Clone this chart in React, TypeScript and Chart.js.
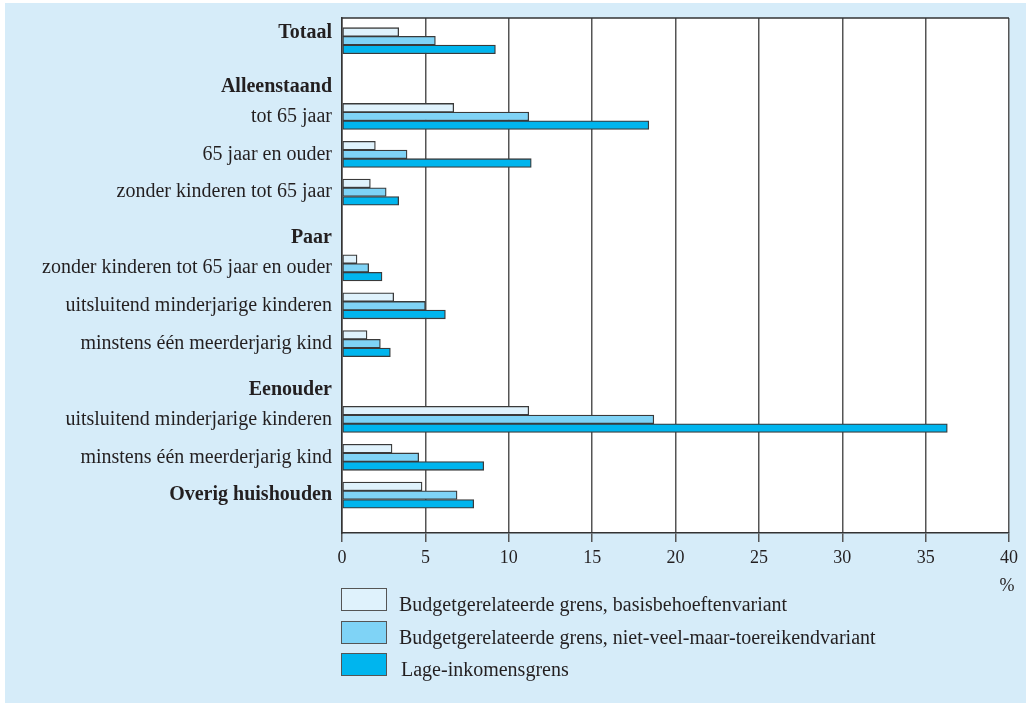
import React, { useEffect, useRef } from "react";
import { Chart, registerables } from "chart.js";

Chart.register(...registerables);

// ---- data ----
const CATEGORIES = [
  "Totaal",
  "Alleenstaand",
  "tot 65 jaar",
  "65 jaar en ouder",
  "zonder kinderen tot 65 jaar",
  "Paar",
  "zonder kinderen tot 65 jaar en ouder",
  "uitsluitend minderjarige kinderen",
  "minstens één meerderjarig kind",
  "Eenouder",
  "uitsluitend minderjarige kinderen",
  "minstens één meerderjarig kind",
  "Overig huishouden",
];
const BOLD_LABELS = ["Totaal", "Alleenstaand", "Paar", "Eenouder", "Overig huishouden"];

const SERIES_NAMES = [
  "Budgetgerelateerde grens, basisbehoeftenvariant",
  "Budgetgerelateerde grens, niet-veel-maar-toereikendvariant",
  "Lage-inkomensgrens",
];
const BASIS = [3.4, null, 6.7, 2.0, 1.7, null, 0.9, 3.1, 1.5, null, 11.2, 3.0, 4.8];
const NIET_VEEL = [5.6, null, 11.2, 3.9, 2.65, null, 1.6, 5.0, 2.3, null, 18.7, 4.6, 6.9];
const LAGE_INKOMEN = [9.2, null, 18.4, 11.35, 3.4, null, 2.4, 6.2, 2.9, null, 36.3, 8.5, 7.9];

const X_MIN = 0;
const X_MAX = 40;
const X_STEP = 5;
const UNIT = "%";

// ---- style ----
const FONT = "'Liberation Serif', 'Times New Roman', serif";
const TEXT = "#231f20";
const COLORS = ["#dff2fc", "#7fd3f6", "#00b5ee"];
const BAR_BORDER = "#3a3a3a";
const GRID = "#555555";
const PANEL = "#d6ecf9";

const SERIES = [BASIS, NIET_VEEL, LAGE_INKOMEN];

const framePlugin = {
  id: "frame",
  beforeDraw(chart: any) {
    const { ctx, chartArea: a } = chart;
    ctx.save();
    ctx.fillStyle = "#ffffff";
    ctx.fillRect(a.left, a.top, a.right - a.left, a.bottom - a.top);
    ctx.restore();
  },
  afterDraw(chart: any) {
    const { ctx, chartArea: a, scales } = chart;
    ctx.save();
    ctx.strokeStyle = "#333333";
    ctx.lineWidth = 1.5;
    ctx.beginPath();
    ctx.moveTo(a.left, a.top);
    ctx.lineTo(a.right, a.top);
    ctx.stroke();
    ctx.fillStyle = TEXT;
    ctx.font = `18px ${FONT}`;
    ctx.textAlign = "center";
    ctx.textBaseline = "middle";
    ctx.fillText(UNIT, scales.x.getPixelForValue(X_MAX) - 2, a.bottom + 53);
    ctx.restore();
  },
};

function isHeaderRow(i: number) {
  return SERIES.every((s) => s[i] == null);
}

export default function App() {
  const ref = useRef<HTMLCanvasElement | null>(null);

  useEffect(() => {
    document.body.style.margin = "0";
    const canvas = ref.current;
    if (!canvas) return;
    const chart = new Chart(canvas, {
      type: "bar",
      data: {
        datasets: SERIES.map((values, k) => ({
          label: SERIES_NAMES[k],
          data: values.map((v, i) => ({ x: v, y: i })) as any,
          backgroundColor: COLORS[k],
          borderColor: BAR_BORDER,
          borderWidth: 1.3,
          borderSkipped: false,
          barThickness: 8.7,
        })),
      },
      options: {
        indexAxis: "y",
        animation: false,
        responsive: false,
        maintainAspectRatio: false,
        layout: { padding: { top: 17, right: 17, bottom: 110, left: 0 } },
        plugins: {
          legend: { display: false },
          tooltip: { enabled: false },
        },
        scales: {
          x: {
            type: "linear",
            position: "bottom",
            offset: false,
            min: X_MIN,
            max: X_MAX,
            ticks: {
              stepSize: X_STEP,
              color: TEXT,
              font: { family: FONT, size: 18 },
              padding: 5,
            },
            grid: {
              color: GRID,
              lineWidth: 1.5,
              drawTicks: true,
              tickLength: 9,
              tickColor: GRID,
              offset: false,
            },
            border: { display: true, color: "#333333", width: 1.5 },
            afterFit: (scale: any) => {
              scale.height = 60;
            },
          },
          y: {
            type: "linear",
            reverse: true,
            offset: false,
            min: -0.6,
            max: 13,
            afterBuildTicks: (scale: any) => {
              scale.ticks = CATEGORIES.map((_, i) => ({ value: i }));
            },
            ticks: {
              autoSkip: false,
              padding: 10,
              color: TEXT,
              font: (ctx: any) => {
                const i = ctx.tick ? ctx.tick.value : ctx.index;
                const bold = BOLD_LABELS.includes(CATEGORIES[i]);
                return {
                  family: FONT,
                  size: 20,
                  weight: bold ? "bold" : "normal",
                  lineHeight: bold ? "16px" : 1.2,
                } as any;
              },
              callback: (value: any) => {
                const i = Number(value);
                const label = CATEGORIES[i];
                if (label === undefined) return "";
                if (i === 0) return [label, ""];
                if (isHeaderRow(i)) return ["", label];
                return label;
              },
            },
            grid: { display: false, drawTicks: false, offset: false },
            border: { display: true, color: "#333333", width: 1.5 },
            afterFit: (scale: any) => {
              scale.width = 342;
            },
          },
        },
      },
      plugins: [framePlugin],
    });
    return () => chart.destroy();
  }, []);

  const legendTops = [588, 621, 653];

  return (
    <div style={{ position: "relative", width: 1026, height: 703, overflow: "hidden" }}>
      <div
        style={{
          position: "absolute",
          left: 5,
          top: 3,
          right: 0,
          bottom: 0,
          background: PANEL,
        }}
      />
      <canvas
        ref={ref}
        width={1026}
        height={703}
        style={{ position: "absolute", left: 0, top: 0, width: 1026, height: 703 }}
      />
      {SERIES_NAMES.map((name, k) => (
        <React.Fragment key={name}>
          <div
            style={{
              position: "absolute",
              left: 341,
              top: legendTops[k],
              width: 46,
              height: 23,
              boxSizing: "border-box",
              background: COLORS[k],
              border: "1.5px solid #555",
            }}
          />
          <div
            style={{
              position: "absolute",
              left: 399 + (k === 2 ? 2 : 0),
              top: legendTops[k] + 4,
              fontFamily: FONT,
              fontSize: 20,
              lineHeight: "24px",
              color: TEXT,
              whiteSpace: "nowrap",
            }}
          >
            {name}
          </div>
        </React.Fragment>
      ))}
    </div>
  );
}
